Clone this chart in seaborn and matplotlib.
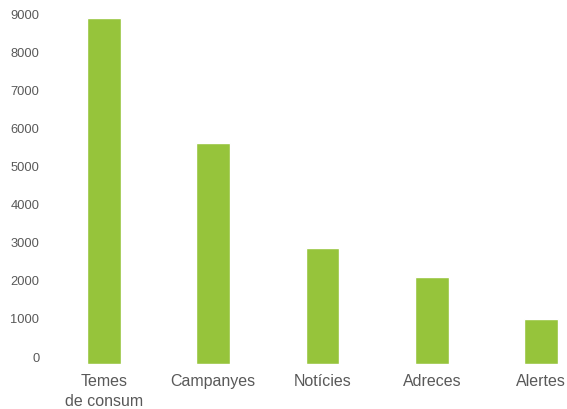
import matplotlib
matplotlib.use("Agg")
import matplotlib.pyplot as plt
import matplotlib.transforms as mtransforms
import seaborn as sns
import pandas as pd

# dades del gràfic
categories = ["Temes\nde consum", "Campanyes", "Notícies", "Adreces", "Alertes"]
values = [9100, 5810, 3045, 2290, 1185]
yticks = [0, 1000, 2000, 3000, 4000, 5000, 6000, 7000, 8000, 9000]

df = pd.DataFrame({"categoria": categories, "valor": values})

sns.set_style("white")
plt.rcParams["font.family"] = ["Liberation Sans", "DejaVu Sans"]

fig = plt.figure(figsize=(5.67, 4.09), dpi=100)
ax = fig.add_axes([49 / 567, 45 / 409, 1 - 49 / 567, 1 - 45 / 409 - 14 / 409])

sns.barplot(data=df, x="categoria", y="valor", color="#96c43b",
            width=0.31, saturation=1, ax=ax)

ax.set_xlim(-0.5, 4.235)
ax.set_ylim(0, 9200)
ax.set_yticks(yticks)
ax.set_yticklabels([str(t) for t in yticks])
ax.set_xlabel("")
ax.set_ylabel("")
sns.despine(ax=ax, left=True, bottom=True)
ax.tick_params(axis="y", length=0, pad=7, labelsize=9.3, labelcolor="#595959")
ax.tick_params(axis="x", length=0, pad=7, labelsize=11.5, labelcolor="#595959")
for lab in ax.get_xticklabels():
    lab.set_linespacing(1.45)

# etiquetes de l'eix y una mica més amunt, com a l'original
offset = mtransforms.ScaledTranslation(0, 7 / 100, fig.dpi_scale_trans)
for lab in ax.get_yticklabels():
    lab.set_transform(lab.get_transform() + offset)

fig.savefig("out.png", dpi=100)
